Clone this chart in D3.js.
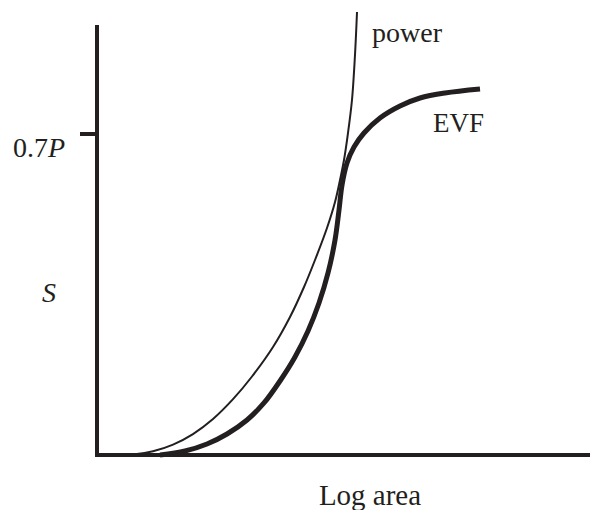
<!DOCTYPE html>
<html>
<head>
<meta charset="utf-8">
<script src="https://cdn.jsdelivr.net/npm/d3@7"></script>
<style>
  body { margin: 0; background: #fff; }
</style>
</head>
<body>
<div id="graph"></div>
<script>
var SVGwidth = 592,
	SVGheight = 510;

// log area (arbitrary units) vs S (fraction of P)
var powerX = [0.467, 0.771, 1.136, 1.542, 1.947, 2.353, 2.759, 3.144, 3.570, 3.915, 4.199, 4.422, 4.665, 4.828, 4.929, 5.010, 5.091, 5.172, 5.233, 5.274];
var powerY = [0, 0.0014, 0.0081, 0.0227, 0.0456, 0.0785, 0.1217, 0.1712, 0.2355, 0.3009, 0.3663, 0.4252, 0.4950, 0.5517, 0.5997, 0.6433, 0.7021, 0.7741, 0.8722, 0.9660];

var evfX = [1.278, 1.785, 2.231, 2.637, 3.043, 3.387, 3.712, 4.016, 4.280, 4.503, 4.686, 4.828, 4.909, 4.970, 5.071, 5.213, 5.416, 5.740, 6.146, 6.552, 7.059, 7.769];
var evfY = [0, 0.0087, 0.0240, 0.0458, 0.0763, 0.1134, 0.1614, 0.2137, 0.2704, 0.3314, 0.3969, 0.4688, 0.5342, 0.5887, 0.6367, 0.6716, 0.7021, 0.7348, 0.7610, 0.7785, 0.7894, 0.7981];

var yTicks = [0.7];
var yTickLabels = ["0.7"];

var font = '"Liberation Serif", "Times New Roman", serif';

var svg = d3.select('div#graph')
	.append('svg')
	.attr('width', SVGwidth)
	.attr('height', SVGheight);

var x = d3.scaleLinear()
	.domain([0, 10])
	.range([97, 590]);
var y = d3.scaleLinear()
	.domain([0, 1])
	.range([455, -3.6]);

var line = d3.line()
	.x(function(d) { return x(d[0]); })
	.y(function(d) { return y(d[1]); })
	.curve(d3.curveCatmullRom.alpha(0.5));

var ink = "#231f20";

svg.append("path")
	.datum(d3.zip(powerX, powerY))
	.attr("d", line)
	.attr("fill", "none")
	.attr("stroke", ink)
	.attr("stroke-width", 2);

svg.append("path")
	.datum(d3.zip(evfX, evfY))
	.attr("d", line)
	.attr("fill", "none")
	.attr("stroke", ink)
	.attr("stroke-width", 5);

// axes
svg.append("line")
	.attr("x1", x(0)).attr("x2", x(0))
	.attr("y1", 25).attr("y2", y(0) + 2)
	.attr("stroke", ink).attr("stroke-width", 4);
svg.append("line")
	.attr("x1", x(0) - 2).attr("x2", x(10))
	.attr("y1", y(0)).attr("y2", y(0))
	.attr("stroke", ink).attr("stroke-width", 4);

svg.selectAll(".ytick")
	.data(yTicks)
	.enter()
	.append("line")
	.attr("class", "ytick")
	.attr("x1", x(0) - 17).attr("x2", x(0))
	.attr("y1", function(d) { return y(d); })
	.attr("y2", function(d) { return y(d); })
	.attr("stroke", ink).attr("stroke-width", 4);

var tl = svg.selectAll(".ylabel")
	.data(yTicks)
	.enter()
	.append("text")
	.attr("class", "ylabel")
	.attr("x", 13)
	.attr("y", function(d) { return y(d) + 23; })
	.attr("font-family", font)
	.attr("fill", ink)
	.attr("font-size", 28);
tl.append("tspan").text(function(d, i) { return yTickLabels[i]; });
tl.append("tspan").attr("font-style", "italic").text("P");

function label(txt, lx, ly, size) {
	return svg.append("text")
		.attr("x", lx).attr("y", ly)
		.attr("font-family", font)
		.attr("font-size", size)
		.attr("fill", ink)
		.text(txt);
}

label("S", 42, 302, 28).attr("font-style", "italic");
label("Log area", 370, 505, 29).attr("text-anchor", "middle");
label("power", 372, 42, 28);
label("EVF", 433, 132, 27);
</script>
</body>
</html>
